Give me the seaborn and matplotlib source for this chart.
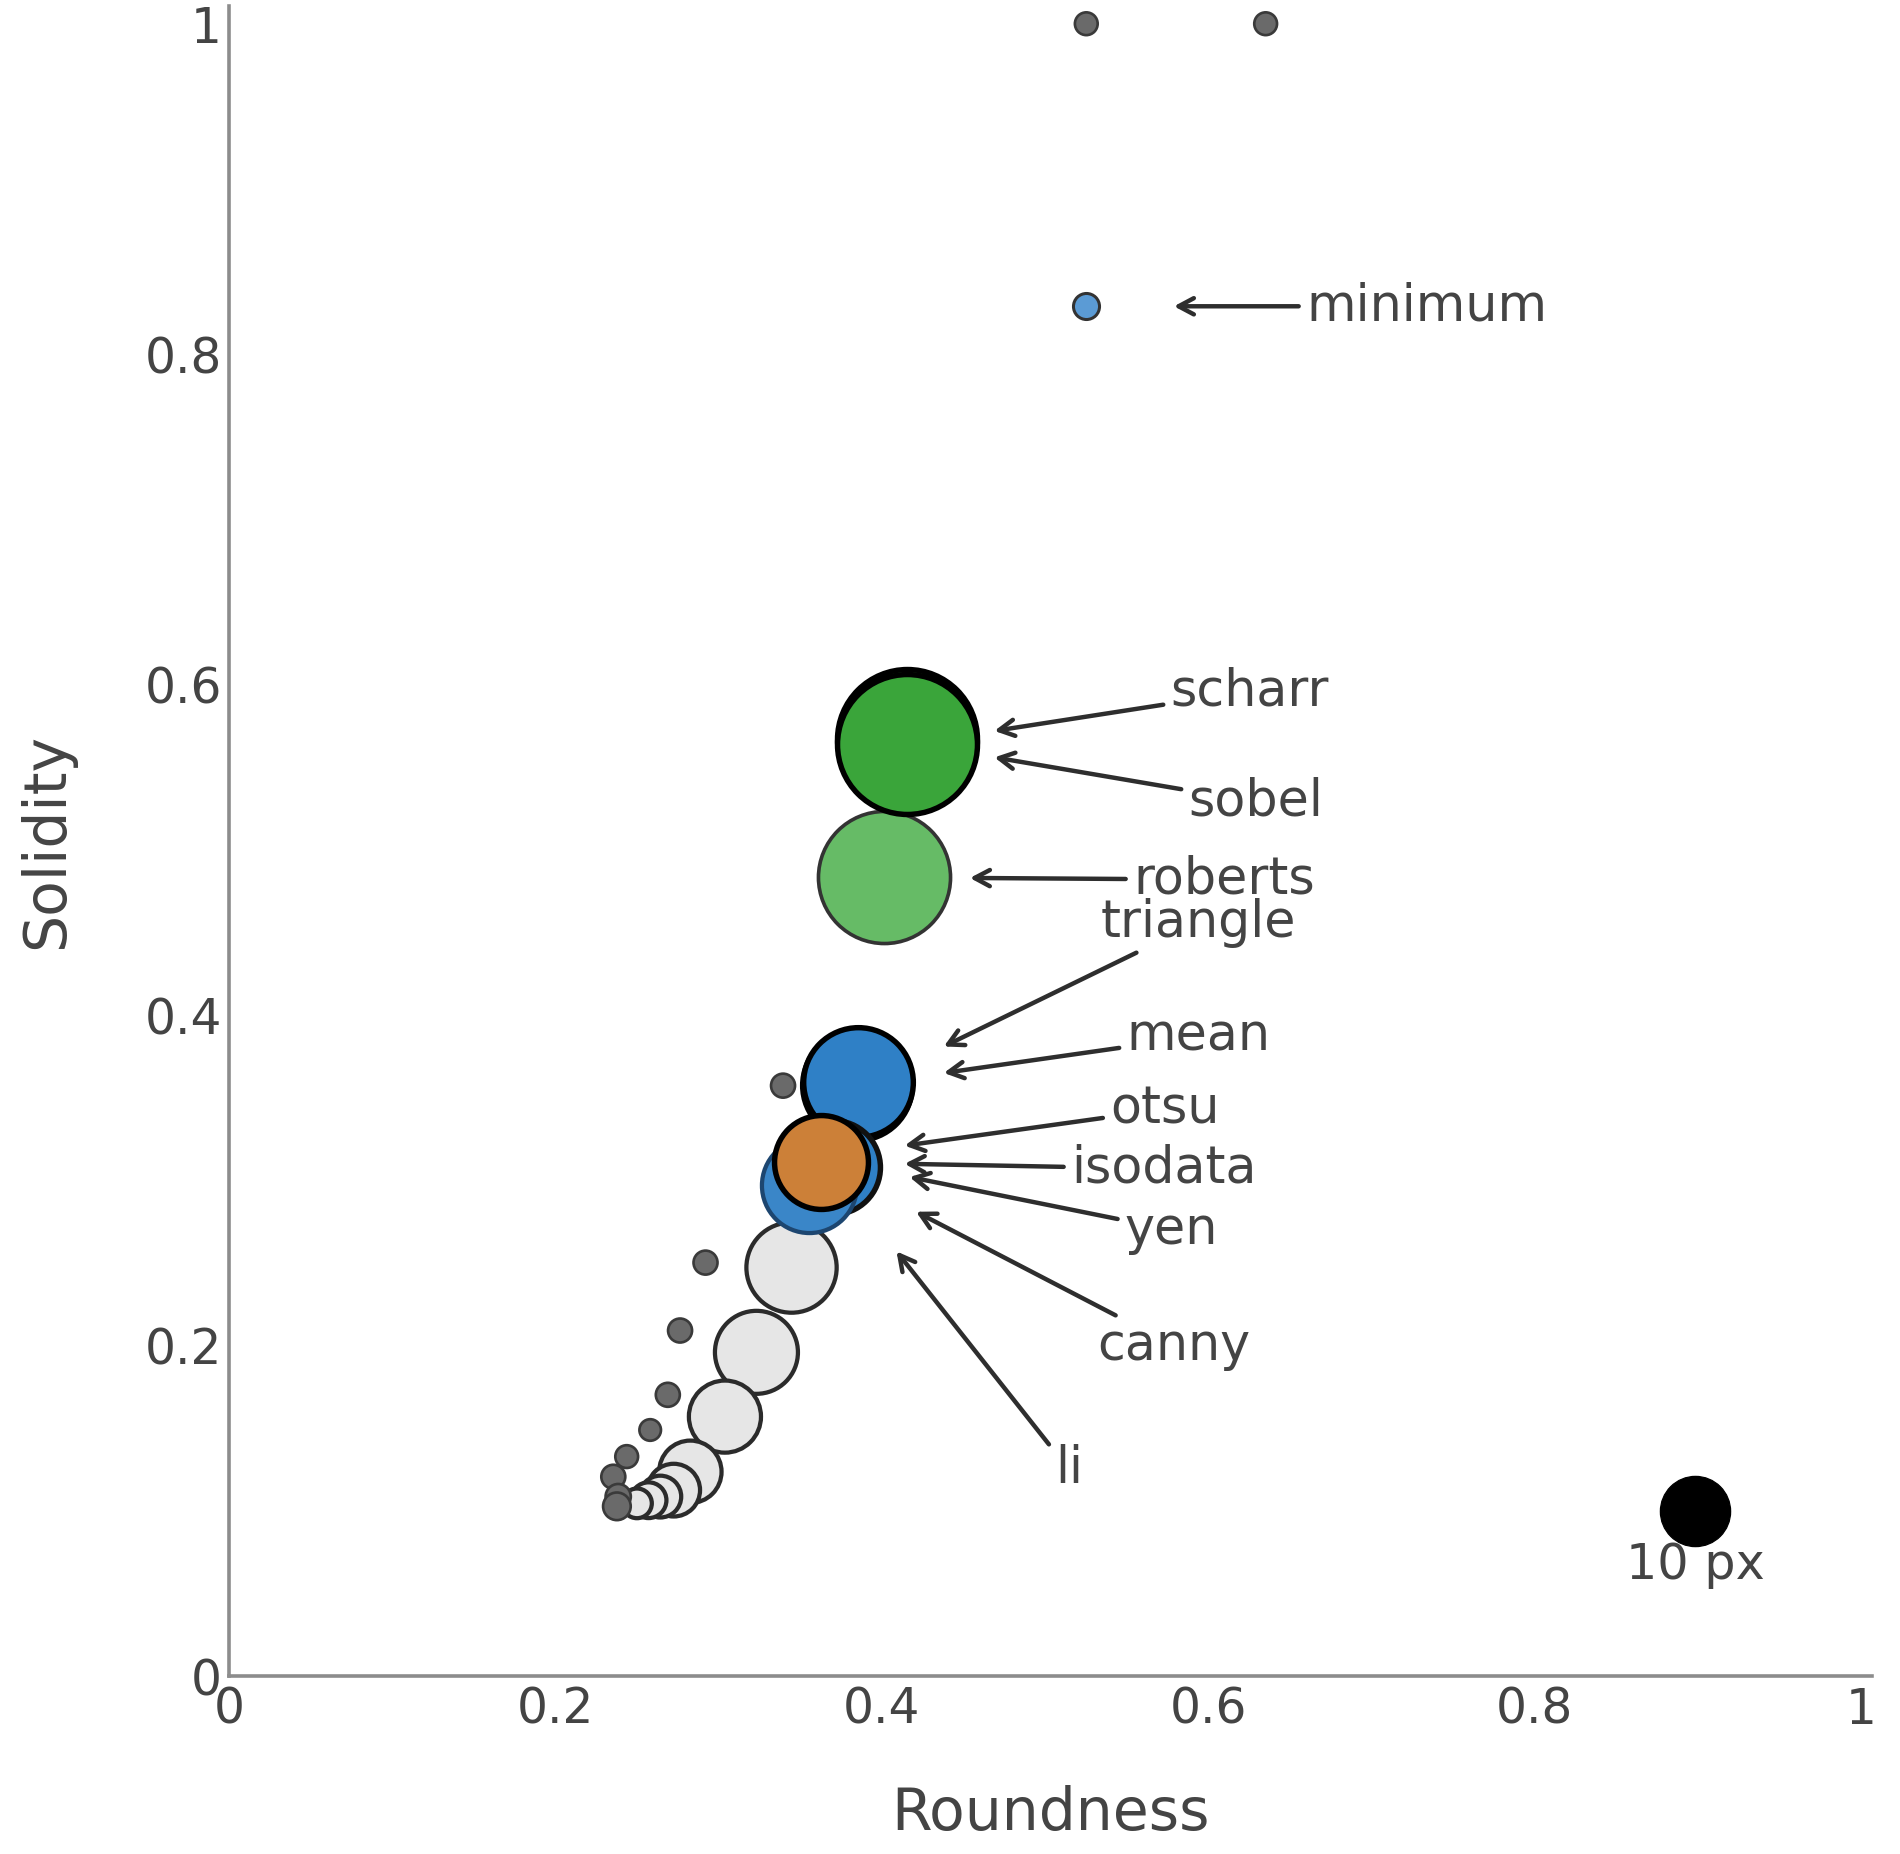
import numpy as np
import pandas as pd
import matplotlib
matplotlib.use("Agg")
import matplotlib.pyplot as plt
import seaborn as sns

sns.set_style("white")
plt.rcParams['font.family'] = ['DejaVu Sans']

# ---------------- data ----------------
# light-gray sweep circles (roundness, solidity, bubble radius px)
gray_x = [0.3447, 0.3232, 0.3039, 0.2827, 0.2725, 0.2643, 0.2571, 0.2500]
gray_y = [0.2472, 0.1959, 0.1570, 0.1236, 0.1125, 0.1086, 0.1064, 0.1045]
gray_r = [39, 36, 31.5, 27.5, 23.5, 19, 16.5, 14]

# small dark dots
dot_x = [0.5253, 0.6352, 0.3395, 0.2920, 0.2764, 0.2689, 0.2581, 0.2437, 0.2355, 0.2385, 0.2377]
dot_y = [1.0, 1.0, 0.3573, 0.2502, 0.2091, 0.1702, 0.1489, 0.1328, 0.1206, 0.1086, 0.1027]
dot_r = [10.5, 10.5, 11, 11, 11, 11, 10, 10.5, 11, 11.5, 12.5]

# named methods
methods   = ["triangle", "mean", "isodata", "yen", "otsu", "roberts", "scharr", "sobel", "minimum"]
method_x  = [0.3848, 0.3855, 0.3700, 0.3551, 0.3626, 0.4012, 0.4153, 0.4153, 0.5253]
method_y  = [0.3580, 0.3595, 0.3081, 0.2971, 0.3111, 0.4835, 0.5671, 0.5642, 0.8291]
method_r  = [47.5, 47.5, 41, 41, 41, 56, 60, 60, 12]
method_fill = ["#2f80c6", "#2f80c6", "#2f80c6", "#3a86c8", "#cc8038",
               "#66bb66", "#3aa53a", "#3aa53a", "#5b9bd5"]
method_edge = ["#000000", "#000000", "#111111", "#1d4670", "#000000",
               "#333333", "#000000", "#000000", "#333333"]
method_lw   = [4.5, 4.5, 4.5, 3.5, 4.5, 3.0, 4.5, 4.5, 2.5]

# legend bubble
ref_x = [0.8982]
ref_y = [0.0998]
ref_r = [29.5]
ref_label = "10 px"

# annotations: label, arrow tip (x, y), text anchor (x, y)
ann_labels = ["minimum", "scharr", "sobel", "roberts", "triangle", "mean",
              "otsu", "isodata", "yen", "canny", "li"]
ann_tip_x = [0.579, 0.469, 0.469, 0.454, 0.438, 0.438, 0.414, 0.414, 0.417, 0.421, 0.409]
ann_tip_y = [0.829, 0.572, 0.556, 0.483, 0.381, 0.365, 0.321, 0.310, 0.302, 0.281, 0.257]
ann_txt_x = [0.660, 0.577, 0.588, 0.554, 0.534, 0.550, 0.540, 0.516, 0.549, 0.532, 0.506]
ann_txt_y = [0.829, 0.596, 0.529, 0.482, 0.456, 0.387, 0.343, 0.307, 0.270, 0.200, 0.125]

x_ticks = [0, 0.2, 0.4, 0.6, 0.8, 1]
x_tick_labels = ["0", "0.2", "0.4", "0.6", "0.8", "1"]
y_ticks = [0, 0.2, 0.4, 0.6, 0.8, 1]
y_tick_labels = ["0", "0.2", "0.4", "0.6", "0.8", "1"]

# ---------------- figure ----------------
W, H, DPI = 1900, 1854, 100
fig = plt.figure(figsize=(W / DPI, H / DPI), dpi=DPI)
ax = fig.add_axes([0.1205, 0.096, 0.865, 0.901])

PX = 1.2117 / (DPI / 72.0)   # reference display px -> points


def sizes(r, lw):
    r = np.asarray(r, float)
    d = 2 * (r * PX - lw * PX / 2)
    return d ** 2


def bubbles(x, y, r, fill, edge, lw, z):
    df = pd.DataFrame({"x": x, "y": y, "r": r})
    sns.scatterplot(data=df, x="x", y="y", s=sizes(df["r"], lw), color=fill,
                    edgecolor=edge, linewidth=lw * PX, legend=False, ax=ax,
                    zorder=z)


bubbles(gray_x, gray_y, gray_r, "#e6e6e6", "#2b2b2b", 3.5, 2)
bubbles(dot_x, dot_y, dot_r, "#6a6a6a", "#3a3a3a", 2.2, 3)
for i, m in enumerate(methods):
    bubbles([method_x[i]], [method_y[i]], [method_r[i]], method_fill[i],
            method_edge[i], method_lw[i], 4 + i)
bubbles(ref_x, ref_y, ref_r, "#000000", "#000000", 1.0, 20)
ax.text(ref_x[0], 0.067, ref_label, ha="center", va="center",
        fontsize=35.5, color="#444444", zorder=21)

for lab, tx, ty, sx, sy in zip(ann_labels, ann_tip_x, ann_tip_y, ann_txt_x, ann_txt_y):
    ax.annotate(lab, xy=(tx, ty), xytext=(sx, sy), ha="left", va="center",
                fontsize=36.5, color="#444444", zorder=30,
                arrowprops=dict(arrowstyle="->,head_length=0.3,head_width=0.16",
                                color="#2e2e2e", lw=3.2, shrinkA=3, shrinkB=0))

ax.set_xlim(0, 1.007)
ax.set_ylim(0, 1.011)
ax.set_xticks(x_ticks)
ax.set_xticklabels(x_tick_labels)
ax.set_yticks(y_ticks)
ax.set_yticklabels(y_tick_labels)
ax.tick_params(axis="both", length=0, labelsize=35, labelcolor="#444444")
ax.tick_params(axis="x", pad=7)
ax.tick_params(axis="y", pad=5)

for side in ["top", "right"]:
    ax.spines[side].set_visible(False)
for side in ["left", "bottom"]:
    ax.spines[side].set_color("#8c8c8c")
    ax.spines[side].set_linewidth(2.6)

ax.set_xlabel("Roundness", fontsize=42, color="#444444")
ax.set_ylabel("Solidity", fontsize=42, color="#444444")
ax.xaxis.set_label_coords(0.5, -0.0826)
ax.xaxis.label.set_va("center")
ax.yaxis.set_label_coords(-0.111, 0.5)
ax.yaxis.label.set_va("center")
ax.grid(False)

fig.savefig("out.png", dpi=DPI)
